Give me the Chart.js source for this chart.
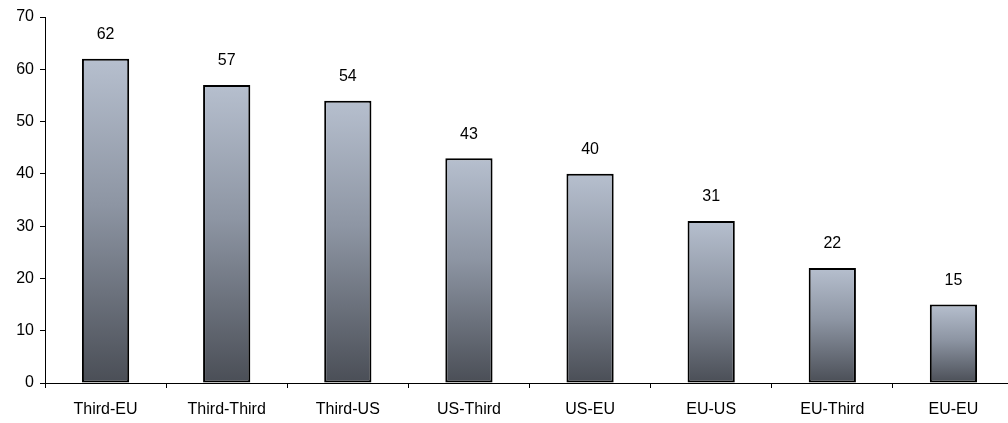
<!DOCTYPE html>
<html>
<head>
<meta charset="utf-8">
<script src="https://cdn.jsdelivr.net/npm/chart.js@4/dist/chart.umd.min.js"></script>
<style>
  html, body { margin: 0; padding: 0; background: #fff; overflow: hidden; }
  #wrap { width: 1014px; height: 423px; }
</style>
</head>
<body>
<div id="wrap"><canvas id="grafico"></canvas></div>
<script>
// categorias e valores das barras
let categorias = ['Third-EU', 'Third-Third', 'Third-US', 'US-Third', 'US-EU', 'EU-US', 'EU-Third', 'EU-EU'];
let valores = [62, 57, 54, 43, 40, 31, 22, 15];
let ticksY = [0, 10, 20, 30, 40, 50, 60, 70];

let fonte = { family: '"Liberation Sans", Arial, sans-serif', size: 16 };

// degradê de cada barra, do topo (claro) até a base (escura)
function corDaBarra(context){
    let chart = context.chart;
    let escala = chart.scales.y;
    if(!escala || !chart.chartArea) return '#8a93a3';
    let v = context.raw;
    let topo = escala.getPixelForValue(v);
    let base = escala.getPixelForValue(0);
    let g = chart.ctx.createLinearGradient(0, topo, 0, base);
    g.addColorStop(0, '#b6bfce');
    g.addColorStop(0.45, '#8d95a3');
    g.addColorStop(1, '#4a4e56');
    return g;
}

// escreve o valor em cima de cada barra
const rotulos = {
    id: 'rotulos',
    afterDatasetsDraw(chart){
        let ctx = chart.ctx;
        let meta = chart.getDatasetMeta(0);
        ctx.save();
        ctx.font = fonte.size + 'px ' + fonte.family;
        ctx.fillStyle = '#000';
        ctx.textAlign = 'center';
        ctx.textBaseline = 'bottom';
        meta.data.forEach(function(barra, i){
            ctx.fillText(valores[i], barra.x, barra.y - 16);
        });
        ctx.restore();
    }
};

var ctx = document.getElementById('grafico').getContext('2d');

var grafico = new Chart(ctx, {
    type: 'bar',
    data: {
        labels: categorias,
        datasets: [{
            data: valores,
            backgroundColor: corDaBarra,
            borderColor: '#000',
            borderWidth: 2,
            borderSkipped: false,
            categoryPercentage: 1,
            barPercentage: 0.39
        }]
    },
    options: {
        responsive: true,
        maintainAspectRatio: false,
        animation: false,
        layout: { padding: { top: 17, right: 0, left: 0, bottom: 0 } },
        plugins: {
            legend: { display: false },
            tooltip: { enabled: false }
        },
        scales: {
            x: {
                offset: true,
                grid: {
                    offset: true,
                    drawOnChartArea: false,
                    color: '#000',
                    tickLength: 5,
                    tickColor: '#000'
                },
                border: { color: '#000', width: 1 },
                ticks: { color: '#000', font: fonte, padding: 12, maxRotation: 0, autoSkip: false },
                afterFit(escala){ escala.height = 40; }
            },
            y: {
                min: 0,
                max: 70,
                afterBuildTicks(escala){
                    escala.ticks = ticksY.map(function(v){ return { value: v }; });
                },
                grid: {
                    drawOnChartArea: false,
                    tickLength: 5,
                    tickColor: '#000'
                },
                border: { color: '#000', width: 1 },
                ticks: { color: '#000', font: fonte, padding: 6 },
                afterFit(escala){ escala.width = 45; }
            }
        }
    },
    plugins: [rotulos]
});
</script>
</body>
</html>
